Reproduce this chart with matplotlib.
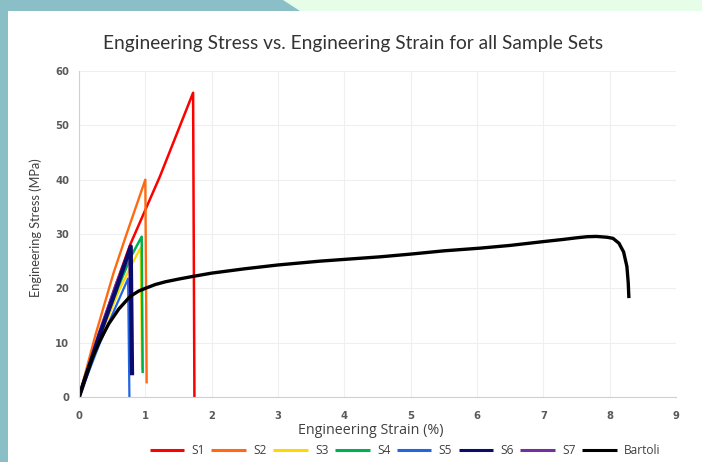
import matplotlib
matplotlib.use("Agg")
import matplotlib.pyplot as plt
from matplotlib.patches import Polygon, Rectangle

plt.rcParams['font.family'] = ['Lato', 'DejaVu Sans']

# Stress-strain curves (strain in %, stress in MPa)
s1_strain = [0, 0.3, 0.55, 0.77, 1.22, 1.72, 1.74]
s1_stress = [0, 11.5, 20.5, 28, 40.6, 56, 0]

s2_strain = [0, 0.25, 0.52, 0.72, 1.0, 1.02]
s2_stress = [0, 11.5, 22.8, 30.1, 40, 2.5]

s3_strain = [0, 0.3, 0.6, 0.8, 0.93, 0.95]
s3_stress = [0, 10.5, 19.5, 24.5, 27.5, 5]

s4_strain = [0, 0.3, 0.6, 0.79, 0.945, 0.96]
s4_stress = [0, 11, 20.5, 26, 29.5, 4.4]

s5_strain = [0, 0.3, 0.55, 0.74, 0.76]
s5_stress = [0, 9.5, 16.5, 21.8, 0]

s7_strain = [0, 0.3, 0.55, 0.76, 0.78]
s7_stress = [0, 11.8, 20.5, 27.2, 6]

s6_strain = [0, 0.3, 0.55, 0.78, 0.80]
s6_stress = [0, 11, 19.5, 27.7, 4]

bartoli_strain = [0, 0.1, 0.2, 0.32, 0.45, 0.6, 0.77, 0.9, 1.0, 1.15, 1.3, 1.5,
                  1.72, 2.0, 2.5, 3.0, 3.63, 4.54, 5.0, 5.5, 6.05, 6.5, 7.0, 7.3,
                  7.5, 7.66, 7.8, 7.96, 8.05, 8.14, 8.21, 8.26, 8.28, 8.29]
bartoli_stress = [0, 3.8, 7.2, 10.5, 13.5, 16.2, 18.5, 19.5, 20.0, 20.7, 21.2, 21.7,
                  22.2, 22.8, 23.6, 24.3, 25.0, 25.8, 26.3, 26.9, 27.4, 27.9, 28.6, 29.0,
                  29.3, 29.5, 29.55, 29.4, 29.2, 28.3, 26.7, 24.0, 21.0, 18.2]

x_ticks = list(range(0, 10))
y_ticks = list(range(0, 70, 10))

fig = plt.figure(figsize=(7.02, 4.62), dpi=100)
fig.patch.set_facecolor('#8bbfc7')

# slide backdrop: light green strip top right, white panel
W, H = 702, 462
def fx(px):
    return px / W
def fy(py):
    return 1 - py / H
fig.patches.append(Polygon([(fx(283), fy(0)), (1, fy(0)), (1, fy(11)), (fx(300), fy(11))],
                           closed=True, transform=fig.transFigure,
                           facecolor='#e6fde7', edgecolor='none', zorder=-5))
fig.patches.append(Rectangle((fx(8), 0), 1 - fx(8), fy(11), transform=fig.transFigure,
                             facecolor='white', edgecolor='none', zorder=-5))

ax = fig.add_axes([79 / W, 1 - 397 / H, (676 - 79) / W, (397 - 71) / H])
ax.set_zorder(2)
ax.set_facecolor('white')

line_kw = dict(solid_joinstyle='round', solid_capstyle='butt')
ax.plot(s1_strain, s1_stress, color='#ff0000', lw=1.8, label='S1', **line_kw)
ax.plot(s2_strain, s2_stress, color='#ff6a10', lw=1.7, label='S2', **line_kw)
ax.plot(s3_strain, s3_stress, color='#ffd800', lw=1.6, label='S3', **line_kw)
ax.plot(s4_strain, s4_stress, color='#00b050', lw=1.8, label='S4', **line_kw)
ax.plot(s5_strain, s5_stress, color='#2166e0', lw=1.6, label='S5', **line_kw)
ax.plot(s7_strain, s7_stress, color='#7030a0', lw=1.8, label='S7', **line_kw)
ax.plot(s6_strain, s6_stress, color='#0b0b6b', lw=3.0, label='S6', **line_kw)
ax.plot(bartoli_strain, bartoli_stress, color='black', lw=2.4, label='Bartoli', **line_kw)

ax.set_xlim(0, 9)
ax.set_ylim(0, 60)
ax.set_xticks(x_ticks)
ax.set_yticks(y_ticks)
ax.grid(True, color='#efefef', lw=0.8)
ax.set_axisbelow(True)
for s in ['top', 'right']:
    ax.spines[s].set_visible(False)
for s in ['left', 'bottom']:
    ax.spines[s].set_color('#d0d0d0')
    ax.spines[s].set_linewidth(0.8)
ax.tick_params(axis='x', length=0, pad=10)
ax.tick_params(axis='y', length=0, pad=7)
for lab in ax.get_xticklabels() + ax.get_yticklabels():
    lab.set_fontfamily('DejaVu Sans')
    lab.set_fontweight('bold')
    lab.set_fontsize(7.2)
    lab.set_color('#595959')

fig.text(371 / W, fy(430), 'Engineering Strain (%)', ha='center', va='center',
         fontsize=10.3, color='#404040', family='Open Sans')
fig.text(36 / W, fy(228), 'Engineering Stress (MPa)', ha='center', va='center',
         rotation=90, fontsize=9.2, color='#404040')
fig.text(353 / W, fy(43), 'Engineering Stress vs. Engineering Strain for all Sample Sets',
         ha='center', va='center', fontsize=13.8, color='#333333')

handles, labels = ax.get_legend_handles_labels()
order = ['S1', 'S2', 'S3', 'S4', 'S5', 'S6', 'S7', 'Bartoli']
hl = dict(zip(labels, handles))
leg = fig.legend([hl[k] for k in order], order, loc='center', ncol=8,
                 bbox_to_anchor=(405 / W, fy(451)), frameon=False,
                 prop={'family': 'Open Sans', 'size': 8.6},
                 handlelength=2.9, handletextpad=0.6, columnspacing=0.55,
                 labelcolor='#404040')
for h in leg.legend_handles:
    h.set_linewidth(2.2)

fig.savefig('out.png', dpi=100, facecolor=fig.get_facecolor())
